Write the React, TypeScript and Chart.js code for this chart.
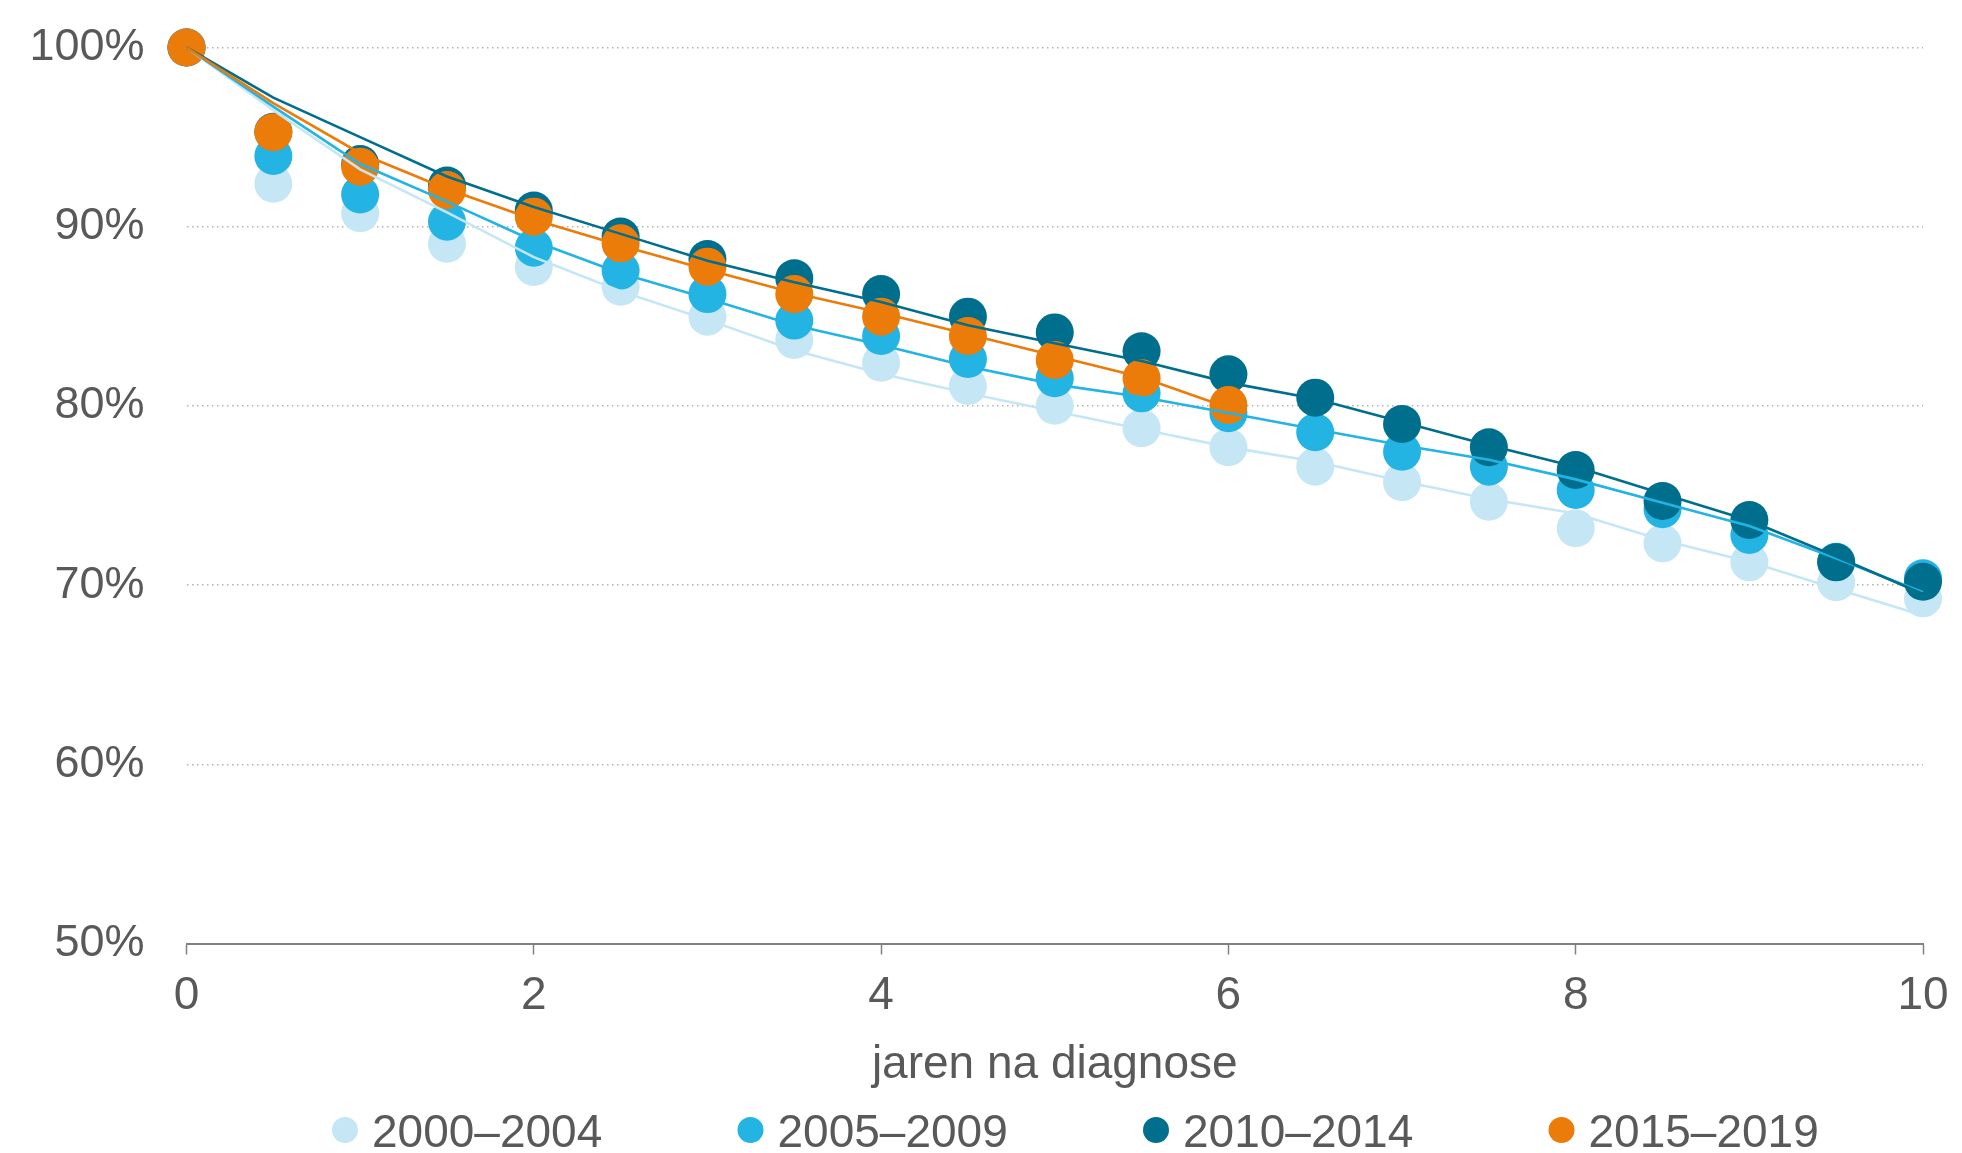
import React, { useEffect, useRef } from "react";
import { Chart, registerables } from "chart.js";

Chart.register(...registerables);

// ---- data ----
const YEARS = [0, 0.5, 1, 1.5, 2, 2.5, 3, 3.5, 4, 4.5, 5, 5.5, 6, 6.5, 7, 7.5, 8, 8.5, 9, 9.5, 10];
const LABELS = ["2000–2004", "2005–2009", "2010–2014", "2015–2019"];

// markers (every half year)
const DOTS_2000 = [100, 92.4, 90.75, 89.05, 87.75, 86.65, 84.98, 83.68, 82.41, 81.11, 80.01, 78.75, 77.69, 76.61, 75.74, 74.65, 73.17, 72.33, 71.27, 70.16, 69.26];
const DOTS_2005 = [100, 93.95, 91.8, 90.28, 88.83, 87.55, 86.24, 84.76, 83.9, 82.62, 81.54, 80.7, 79.59, 78.53, 77.44, 76.61, 75.31, 74.23, 72.8, 71.3, 70.38];
const DOTS_2010 = [100, 95.3, 93.5, 92.3, 90.9, 89.45, 88.2, 87.12, 86.24, 84.98, 84.1, 83.05, 81.76, 80.46, 78.99, 77.69, 76.42, 74.69, 73.63, 71.27, 70.19];
const DOTS_2015 = [100, 95.27, 93.35, 92.05, 90.56, 89.07, 87.77, 86.24, 84.98, 83.9, 82.56, 81.54, 80.05];

// curves (read at every half year)
const CURVE_2000 = [100, 96.5, 93.2, 90.8, 88.3, 86.4, 84.8, 83.1, 81.8, 80.7, 79.7, 78.7, 77.7, 76.9, 75.8, 74.8, 74.0, 72.5, 71.3, 69.8, 68.3];
const CURVE_2005 = [100, 96.7, 93.5, 91.4, 89.2, 87.4, 86.0, 84.5, 83.4, 82.2, 81.2, 80.5, 79.6, 78.7, 77.8, 77.0, 75.9, 74.6, 73.3, 71.5, 69.6];
const CURVE_2010 = [100, 97.2, 95.0, 92.8, 91.1, 89.6, 88.1, 86.9, 85.8, 84.5, 83.5, 82.5, 81.3, 80.4, 79.1, 77.8, 76.6, 75.1, 73.6, 71.6, 69.5];
const CURVE_2015 = [100, 96.9, 94.1, 92.1, 90.4, 88.95, 87.6, 86.3, 85.2, 84.0, 82.8, 81.6, 79.9];

const Y_TICKS = [50, 60, 70, 80, 90, 100];
const X_TICKS = [0, 2, 4, 6, 8, 10];
const X_TITLE = "jaren na diagnose";

// ---- styles ----
const COLORS = ["#C5E6F5", "#23B4E3", "#006F8E", "#EC7C0A"];
const FONT = "'Liberation Sans', Arial, sans-serif";
const TEXT = "#595959";
const W = 1962;
const H = 1153;

const toXY = (vals: number[]) => vals.map((v, i) => ({ x: YEARS[i], y: v }));

const legendPlugin = {
  id: "customLegend",
  afterDraw(chart: any) {
    const ctx = chart.ctx;
    ctx.save();
    ctx.font = `46px ${FONT}`;
    ctx.textBaseline = "middle";
    ctx.textAlign = "left";
    const y = 1134;
    const x0 = 345;
    const step = 405.5;
    LABELS.forEach((lab, i) => {
      const cx = x0 + i * step;
      ctx.beginPath();
      ctx.fillStyle = COLORS[i];
      ctx.arc(cx, y - 4, 13, 0, Math.PI * 2);
      ctx.fill();
      ctx.fillStyle = TEXT;
      ctx.fillText(lab, cx + 27, y);
    });
    ctx.restore();
  },
};

export default function App() {
  const ref = useRef<HTMLCanvasElement | null>(null);

  useEffect(() => {
    document.body.style.margin = "0";
    const canvas = ref.current!;
    const dots = [DOTS_2000, DOTS_2005, DOTS_2010, DOTS_2015];
    const curves = [CURVE_2000, CURVE_2005, CURVE_2010, CURVE_2015];

    const datasets: any[] = [];
    curves.forEach((c, i) => {
      datasets.push({
        label: LABELS[i] + " curve",
        data: toXY(c),
        borderColor: COLORS[i],
        backgroundColor: COLORS[i],
        borderWidth: 2.6,
        pointRadius: 0,
        fill: false,
        tension: 0,
        clip: false,
        order: 4 - i,
      });
    });
    dots.forEach((d, i) => {
      datasets.push({
        label: LABELS[i],
        data: toXY(d),
        showLine: false,
        pointStyle: "circle",
        pointRadius: 19,
        pointBorderWidth: 0,
        pointBackgroundColor: COLORS[i],
        pointBorderColor: COLORS[i],
        borderColor: COLORS[i],
        backgroundColor: COLORS[i],
        clip: false,
        order: 14 - i,
      });
    });

    const chart = new Chart(canvas, {
      type: "line",
      data: { datasets },
      plugins: [legendPlugin],
      options: {
        animation: false,
        responsive: false,
        maintainAspectRatio: false,
        devicePixelRatio: 1,
        layout: { padding: { top: 47.5, right: 39, bottom: 60, left: 0 } },
        plugins: {
          legend: { display: false },
          tooltip: { enabled: false },
        },
        scales: {
          x: {
            type: "linear",
            min: 0,
            max: 10,
            afterFit: (s: any) => {
              s.height = 149.5;
            },
            afterBuildTicks: (s: any) => {
              s.ticks = X_TICKS.map((v) => ({ value: v }));
            },
            grid: {
              display: true,
              drawOnChartArea: false,
              drawTicks: true,
              tickLength: 11,
              tickColor: "#808080",
              tickWidth: 1.5,
            },
            border: { display: true, color: "#808080", width: 2 },
            ticks: {
              color: TEXT,
              font: { family: FONT, size: 46, lineHeight: 1.8 },
              padding: 0,
              maxRotation: 0,
              autoSkip: false,
            },
            title: {
              display: true,
              text: X_TITLE,
              color: TEXT,
              font: { family: FONT, size: 46 },
              padding: { top: 0, bottom: 0 },
            },
          },
          y: {
            type: "linear",
            min: 50,
            max: 100,
            afterFit: (s: any) => {
              s.width = 186.5;
            },
            afterBuildTicks: (s: any) => {
              s.ticks = Y_TICKS.map((v) => ({ value: v }));
            },
            grid: {
              color: "#B3B3B3",
              lineWidth: 1.4,
              drawTicks: true,
              tickLength: 42,
              tickColor: "rgba(0,0,0,0)",
            },
            border: { display: false, dash: [1.5, 3.5] },
            ticks: {
              color: TEXT,
              font: { family: FONT, size: 45 },
              padding: 0,
              callback: (v: any) => v + "%",
            },
          },
        },
      } as any,
    });
    return () => chart.destroy();
  }, []);

  return (
    <div style={{ width: W, height: H, background: "#fff" }}>
      <canvas ref={ref} width={W} height={H} style={{ display: "block", width: W, height: H }} />
    </div>
  );
}
